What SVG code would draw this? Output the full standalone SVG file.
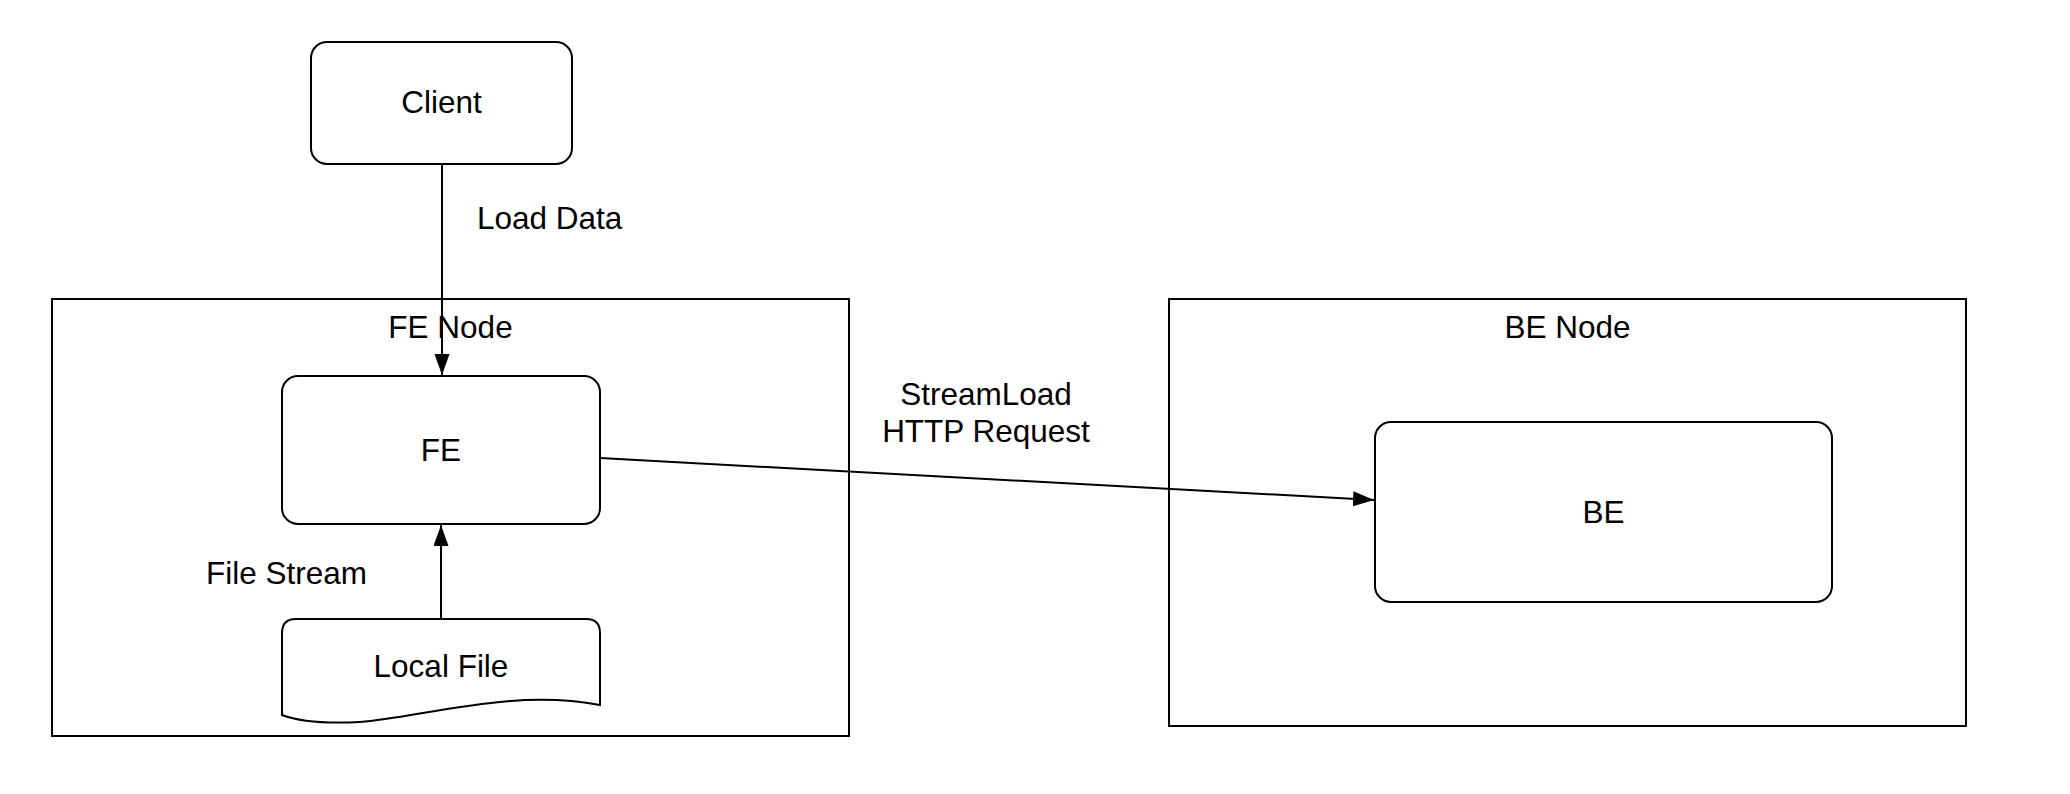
<svg xmlns="http://www.w3.org/2000/svg" width="2070" height="794" viewBox="0 0 2070 794">
<defs>
<style>
.box{fill:#fff;stroke:#000;stroke-width:2}
.grp{fill:none;stroke:#000;stroke-width:2}
.lbl{font-family:"Liberation Sans",Arial,sans-serif;font-size:31.5px;fill:#000}
.mid{text-anchor:middle}
.edge{fill:none;stroke:#000;stroke-width:2}
</style>
<marker id="arr" markerUnits="userSpaceOnUse" markerWidth="22" markerHeight="16" refX="21" refY="7.5" orient="auto">
<path d="M0,0 L21,7.5 L0,15 Z" fill="#000"/>
</marker>
</defs>
<rect width="2070" height="794" fill="#fff"/>
<g id="fe-node">
<rect class="grp" x="52" y="299" width="797" height="437"/>
<text class="lbl mid" x="450.5" y="338">FE Node</text>
</g>
<g id="be-node">
<rect class="grp" x="1169" y="299" width="797" height="427"/>
<text class="lbl mid" x="1567.5" y="338">BE Node</text>
</g>
<g id="client">
<rect class="box" x="311" y="42" width="261" height="122" rx="16" ry="16"/>
<text class="lbl mid" x="441.5" y="113">Client</text>
</g>
<g id="fe">
<rect class="box" x="282" y="376" width="318" height="148" rx="16" ry="16"/>
<text class="lbl mid" x="441" y="461">FE</text>
</g>
<g id="local-file">
<path class="box" d="M282,633 Q282,619 296,619 H586 Q600,619 600,633 V705 C510,688 420,718 360,722 C320,724 295,720 282,715 Z"/>
<text class="lbl mid" x="441" y="677">Local File</text>
</g>
<g id="be">
<rect class="box" x="1375" y="422" width="457" height="180" rx="16" ry="16"/>
<text class="lbl mid" x="1603.5" y="523">BE</text>
</g>
<g id="connectors">
<line class="edge" x1="442" y1="164" x2="442" y2="375" marker-end="url(#arr)"/>
<line class="edge" x1="441" y1="619" x2="441" y2="525" marker-end="url(#arr)"/>
<line class="edge" x1="600" y1="458" x2="1374" y2="500" marker-end="url(#arr)"/>
<text class="lbl" x="477" y="229">Load Data</text>
<text class="lbl" x="206" y="584">File Stream</text>
<text class="lbl mid" x="986" y="405">StreamLoad</text>
<text class="lbl mid" x="986" y="442">HTTP Request</text>
</g>
</svg>
